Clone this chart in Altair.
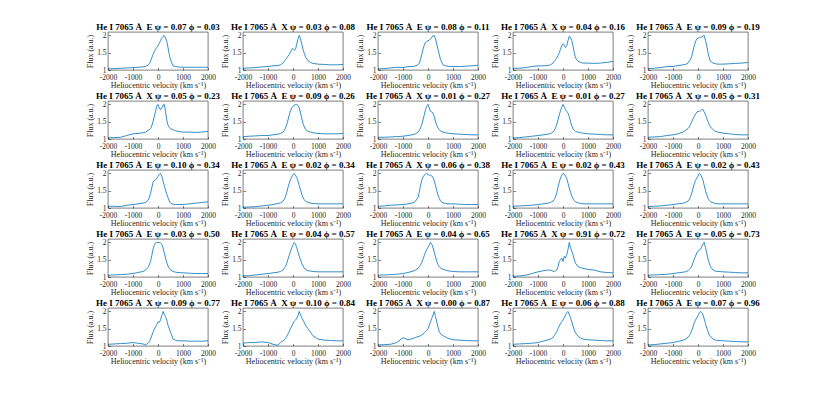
import altair as alt
import pandas as pd

velocity = [-2000, -1750, -1500, -1250, -1000, -800, -600, -500, -400, -350, -300, -250,
            -200, -150, -100, -50, 0, 50, 100, 150, 200, 250, 300, 350, 400, 450, 500,
            600, 700, 800, 1000, 1250, 1500, 1750, 2000]

flux_01 = [1.03, 1.04, 1.05, 1.06, 1.07, 1.08, 1.09, 1.10, 1.14, 1.18, 1.25, 1.35, 1.45, 1.53, 1.60, 1.65, 1.70, 1.77, 1.85, 1.92, 1.97, 2.00, 1.93, 1.83, 1.65, 1.45, 1.30, 1.12, 1.10, 1.09, 1.08, 1.08, 1.08, 1.08, 1.08]
flux_02 = [1.05, 1.06, 1.07, 1.09, 1.10, 1.12, 1.13, 1.15, 1.20, 1.25, 1.30, 1.35, 1.40, 1.45, 1.52, 1.60, 1.62, 1.57, 1.60, 1.75, 1.90, 2.00, 1.90, 1.75, 1.60, 1.48, 1.38, 1.27, 1.22, 1.19, 1.17, 1.16, 1.15, 1.15, 1.16]
flux_03 = [1.03, 1.04, 1.06, 1.08, 1.07, 1.10, 1.10, 1.12, 1.15, 1.20, 1.30, 1.45, 1.60, 1.72, 1.80, 1.83, 1.85, 1.86, 1.90, 1.95, 1.98, 2.00, 1.90, 1.75, 1.60, 1.45, 1.30, 1.15, 1.12, 1.11, 1.10, 1.10, 1.11, 1.12, 1.14]
flux_04 = [1.05, 1.05, 1.07, 1.10, 1.12, 1.12, 1.13, 1.15, 1.20, 1.25, 1.30, 1.35, 1.42, 1.50, 1.60, 1.70, 1.76, 1.72, 1.65, 1.70, 1.85, 1.98, 1.95, 1.85, 1.70, 1.50, 1.35, 1.25, 1.22, 1.20, 1.20, 1.19, 1.20, 1.22, 1.25]
flux_05 = [1.04, 1.05, 1.07, 1.10, 1.10, 1.13, 1.15, 1.16, 1.20, 1.25, 1.30, 1.40, 1.55, 1.70, 1.82, 1.90, 1.92, 1.93, 1.95, 1.96, 1.98, 2.00, 1.85, 1.70, 1.50, 1.35, 1.25, 1.20, 1.18, 1.17, 1.17, 1.18, 1.19, 1.20, 1.22]
flux_06 = [1.03, 1.04, 1.05, 1.10, 1.15, 1.16, 1.18, 1.20, 1.25, 1.27, 1.30, 1.38, 1.50, 1.65, 1.80, 1.95, 2.00, 1.90, 1.85, 1.90, 1.98, 2.00, 1.80, 1.55, 1.40, 1.33, 1.30, 1.27, 1.24, 1.22, 1.20, 1.20, 1.19, 1.20, 1.22]
flux_07 = [1.07, 1.08, 1.09, 1.10, 1.10, 1.12, 1.14, 1.16, 1.20, 1.25, 1.32, 1.42, 1.55, 1.70, 1.82, 1.90, 1.95, 1.98, 2.00, 2.00, 1.97, 1.90, 1.75, 1.60, 1.45, 1.35, 1.28, 1.22, 1.20, 1.18, 1.16, 1.15, 1.15, 1.15, 1.16]
flux_08 = [1.05, 1.05, 1.06, 1.07, 1.08, 1.10, 1.13, 1.15, 1.20, 1.25, 1.32, 1.42, 1.55, 1.70, 1.85, 1.95, 2.00, 1.90, 1.80, 1.78, 1.75, 1.65, 1.50, 1.40, 1.32, 1.27, 1.23, 1.20, 1.18, 1.17, 1.15, 1.14, 1.13, 1.12, 1.12]
flux_09 = [1.03, 1.04, 1.06, 1.08, 1.10, 1.12, 1.14, 1.16, 1.20, 1.25, 1.32, 1.42, 1.55, 1.70, 1.82, 1.92, 2.00, 1.92, 1.85, 1.80, 1.75, 1.65, 1.50, 1.38, 1.30, 1.25, 1.22, 1.20, 1.18, 1.17, 1.15, 1.14, 1.13, 1.12, 1.12]
flux_10 = [1.05, 1.06, 1.07, 1.10, 1.12, 1.15, 1.20, 1.25, 1.30, 1.35, 1.42, 1.50, 1.58, 1.65, 1.72, 1.78, 1.80, 1.80, 1.82, 1.85, 1.85, 1.78, 1.70, 1.60, 1.50, 1.42, 1.35, 1.27, 1.22, 1.20, 1.17, 1.15, 1.13, 1.12, 1.12]
flux_11 = [1.05, 1.05, 1.04, 1.08, 1.10, 1.12, 1.14, 1.16, 1.22, 1.30, 1.42, 1.58, 1.74, 1.80, 1.82, 1.86, 1.92, 1.97, 2.00, 1.92, 1.78, 1.65, 1.52, 1.40, 1.30, 1.20, 1.14, 1.11, 1.10, 1.10, 1.10, 1.12, 1.14, 1.16, 1.18]
flux_12 = [1.02, 1.03, 1.04, 1.06, 1.08, 1.10, 1.13, 1.15, 1.20, 1.25, 1.33, 1.45, 1.60, 1.72, 1.82, 1.90, 1.96, 2.00, 1.95, 1.88, 1.78, 1.65, 1.52, 1.40, 1.30, 1.24, 1.20, 1.16, 1.14, 1.13, 1.12, 1.12, 1.12, 1.12, 1.12]
flux_13 = [1.05, 1.06, 1.08, 1.09, 1.10, 1.12, 1.15, 1.20, 1.30, 1.45, 1.65, 1.80, 1.90, 1.95, 1.98, 2.00, 1.97, 1.95, 1.95, 1.93, 1.88, 1.78, 1.65, 1.50, 1.38, 1.28, 1.20, 1.15, 1.13, 1.12, 1.12, 1.11, 1.10, 1.10, 1.10]
flux_14 = [1.05, 1.06, 1.07, 1.08, 1.10, 1.12, 1.14, 1.16, 1.20, 1.25, 1.32, 1.45, 1.60, 1.75, 1.87, 1.95, 2.00, 1.98, 1.92, 1.85, 1.72, 1.58, 1.45, 1.35, 1.27, 1.22, 1.18, 1.15, 1.13, 1.12, 1.12, 1.12, 1.12, 1.12, 1.12]
flux_15 = [1.04, 1.05, 1.06, 1.08, 1.10, 1.12, 1.14, 1.16, 1.20, 1.25, 1.32, 1.43, 1.57, 1.70, 1.80, 1.86, 1.92, 2.00, 1.97, 1.90, 1.80, 1.65, 1.50, 1.38, 1.28, 1.22, 1.18, 1.15, 1.13, 1.12, 1.12, 1.12, 1.12, 1.12, 1.12]
flux_16 = [1.05, 1.06, 1.07, 1.08, 1.10, 1.13, 1.16, 1.20, 1.28, 1.35, 1.45, 1.62, 1.80, 1.92, 1.98, 2.00, 2.00, 2.00, 1.98, 1.95, 1.85, 1.70, 1.55, 1.42, 1.32, 1.25, 1.20, 1.16, 1.14, 1.13, 1.12, 1.11, 1.10, 1.10, 1.10]
flux_17 = [1.03, 1.04, 1.06, 1.08, 1.10, 1.12, 1.14, 1.16, 1.20, 1.25, 1.30, 1.40, 1.52, 1.63, 1.75, 1.85, 1.93, 2.00, 1.95, 1.85, 1.72, 1.60, 1.50, 1.40, 1.32, 1.26, 1.22, 1.18, 1.17, 1.16, 1.15, 1.15, 1.15, 1.15, 1.15]
flux_18 = [1.05, 1.06, 1.07, 1.08, 1.10, 1.13, 1.17, 1.20, 1.25, 1.30, 1.35, 1.42, 1.52, 1.62, 1.72, 1.80, 1.86, 1.93, 2.00, 1.95, 1.85, 1.72, 1.58, 1.45, 1.36, 1.30, 1.26, 1.22, 1.20, 1.18, 1.16, 1.15, 1.15, 1.15, 1.15]
flux_19 = [1.02, 1.03, 1.05, 1.10, 1.15, 1.18, 1.20, 1.20, 1.17, 1.15, 1.18, 1.20, 1.30, 1.45, 1.50, 1.55, 1.45, 1.60, 1.55, 1.65, 1.80, 2.00, 1.85, 1.75, 1.65, 1.50, 1.40, 1.30, 1.27, 1.25, 1.22, 1.20, 1.15, 1.13, 1.12]
flux_20 = [1.05, 1.06, 1.07, 1.08, 1.10, 1.12, 1.14, 1.15, 1.18, 1.22, 1.25, 1.32, 1.42, 1.52, 1.60, 1.70, 1.75, 1.78, 1.80, 1.88, 1.95, 2.00, 1.85, 1.70, 1.52, 1.40, 1.30, 1.20, 1.17, 1.16, 1.15, 1.14, 1.13, 1.12, 1.12]
flux_21 = [1.05, 1.06, 1.07, 1.08, 1.10, 1.08, 1.06, 1.03, 1.08, 1.12, 1.20, 1.30, 1.40, 1.48, 1.55, 1.62, 1.70, 1.68, 1.75, 1.88, 2.00, 1.92, 1.85, 1.75, 1.60, 1.50, 1.40, 1.20, 1.17, 1.15, 1.15, 1.14, 1.14, 1.14, 1.15]
flux_22 = [1.08, 1.10, 1.10, 1.12, 1.10, 1.05, 1.02, 1.10, 1.15, 1.18, 1.22, 1.28, 1.35, 1.42, 1.50, 1.58, 1.65, 1.72, 1.75, 1.80, 1.88, 2.00, 1.90, 1.82, 1.75, 1.68, 1.60, 1.50, 1.40, 1.30, 1.20, 1.17, 1.16, 1.15, 1.15]
flux_23 = [1.03, 1.04, 1.05, 1.10, 1.24, 1.18, 1.22, 1.25, 1.27, 1.28, 1.30, 1.32, 1.35, 1.38, 1.42, 1.45, 1.50, 1.60, 1.70, 1.80, 1.90, 2.00, 1.85, 1.70, 1.55, 1.42, 1.35, 1.30, 1.26, 1.22, 1.18, 1.17, 1.16, 1.15, 1.15]
flux_24 = [1.05, 1.06, 1.07, 1.08, 1.10, 1.14, 1.18, 1.20, 1.25, 1.30, 1.35, 1.42, 1.50, 1.58, 1.65, 1.70, 1.75, 1.82, 1.90, 1.96, 2.00, 1.92, 1.82, 1.70, 1.58, 1.47, 1.38, 1.28, 1.23, 1.20, 1.18, 1.17, 1.16, 1.15, 1.15]
flux_25 = [1.03, 1.04, 1.06, 1.08, 1.10, 1.13, 1.17, 1.20, 1.25, 1.30, 1.36, 1.45, 1.55, 1.67, 1.75, 1.82, 1.88, 1.95, 2.00, 1.97, 1.90, 1.78, 1.65, 1.52, 1.42, 1.33, 1.27, 1.20, 1.17, 1.16, 1.15, 1.14, 1.13, 1.12, 1.12]

kinds = ["E", "X", "E", "X", "E",
         "X", "E", "X", "E", "X",
         "E", "E", "X", "E", "E",
         "E", "E", "E", "X", "E",
         "X", "X", "X", "E", "E"]
psi = ["0.07", "0.03", "0.08", "0.04", "0.09",
       "0.05", "0.09", "0.01", "0.01", "0.05",
       "0.10", "0.02", "0.06", "0.02", "0.02",
       "0.03", "0.04", "0.04", "0.91", "0.05",
       "0.09", "0.10", "0.00", "0.06", "0.07"]
phi = ["0.03", "0.08", "0.11", "0.16", "0.19",
       "0.23", "0.26", "0.27", "0.27", "0.31",
       "0.34", "0.34", "0.38", "0.43", "0.43",
       "0.50", "0.57", "0.65", "0.72", "0.73",
       "0.77", "0.84", "0.87", "0.88", "0.96"]

x_ticks = [-2000, -1000, 0, 1000, 2000]
y_ticks = [1, 1.5, 2]

fluxes = [flux_01, flux_02, flux_03, flux_04, flux_05, flux_06, flux_07, flux_08,
          flux_09, flux_10, flux_11, flux_12, flux_13, flux_14, flux_15, flux_16,
          flux_17, flux_18, flux_19, flux_20, flux_21, flux_22, flux_23, flux_24, flux_25]

SERIF = "Liberation Serif"
INK = "#262626"

panels = []
for i, f in enumerate(fluxes):
    df = pd.DataFrame({"v": velocity, "f": f})
    title = f"He I 7065 Å\u00a0\u00a0{kinds[i]} ψ = {psi[i]} ϕ = {phi[i]}"
    c = alt.Chart(df).mark_line(color="#0072BD", strokeWidth=0.8, clip=True).encode(
        x=alt.X("v:Q",
                scale=alt.Scale(domain=[-2000, 2000], nice=False),
                axis=alt.Axis(values=x_ticks, title="Heliocentric velocity (km s⁻¹)",
                              labelExpr="'' + datum.value")),
        y=alt.Y("f:Q",
                scale=alt.Scale(domain=[1, 2.1], nice=False, zero=False),
                axis=alt.Axis(values=y_ticks, title="Flux (a.u.)",
                              labelExpr="'' + datum.value")),
    ).properties(
        width=100, height=38,
        title=alt.TitleParams(title, font=SERIF, fontSize=9, fontWeight="bold",
                              color="black", offset=-1),
    )
    panels.append(c)

chart = alt.concat(*panels, columns=5, spacing={"row": 31, "column": 35}, bounds="flush").properties(
    padding={"left": 78, "top": 15, "right": 5, "bottom": 5},
    background="white",
).configure_view(
    stroke=INK, strokeWidth=0.6
).configure_axis(
    domain=False, ticks=True, tickSize=2.5, offset=-2.5, tickColor=INK, tickWidth=0.6,
    labelFont=SERIF, labelFontSize=7.5, labelColor=INK, labelPadding=1,
    labelOverlap=False, labelFlush=False,
    titleFont=SERIF, titleFontSize=8, titleFontWeight="normal", titleColor=INK,
    grid=False,
).configure_axisX(
    titlePadding=0, labelPadding=3.5
).configure_axisY(
    titlePadding=2, labelPadding=2
)

chart.save("out.html", embed_options={"renderer": "svg", "actions": False})
